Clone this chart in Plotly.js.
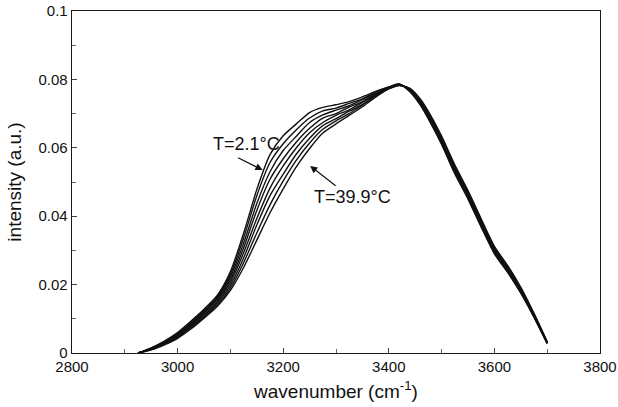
<!DOCTYPE html>
<html>
<head>
<meta charset="utf-8">
<script src="https://cdn.plot.ly/plotly-3.0.1.min.js"></script>
<style>
  html, body { margin: 0; padding: 0; background: #ffffff; }
  #chart { width: 618px; height: 407px; }
</style>
</head>
<body>
<div id="chart"></div>
<script>
// wavenumber grid (cm^-1)
const wavenumber = [2925, 2950, 2975, 3000, 3025, 3050, 3075, 3100, 3125, 3150, 3175, 3200, 3225, 3250, 3275, 3300, 3325, 3350, 3375, 3400, 3420, 3440, 3460, 3480, 3500, 3525, 3550, 3575, 3600, 3625, 3650, 3675, 3700];

// spectra, coldest (T=2.1°C) to warmest (T=39.9°C)
const temperatures = [2.1, 7.5, 12.9, 18.3, 23.7, 29.1, 34.5, 39.9];
const spec_T2_1  = [0, 0.0015, 0.0035, 0.0060, 0.0093, 0.0128, 0.0168, 0.0238, 0.0350, 0.0478, 0.0580, 0.0635, 0.0670, 0.0703, 0.0718, 0.0726, 0.0735, 0.0749, 0.0765, 0.0778, 0.0787, 0.0764, 0.0724, 0.0670, 0.0610, 0.0524, 0.0450, 0.0368, 0.0290, 0.0236, 0.0175, 0.0104, 0.0027];
const spec_T7_5  = [0, 0.0014, 0.0033, 0.0058, 0.0090, 0.0124, 0.0164, 0.0230, 0.0336, 0.0460, 0.0557, 0.0612, 0.0653, 0.0687, 0.0708, 0.0716, 0.0730, 0.0743, 0.0763, 0.0777, 0.0785, 0.0765, 0.0727, 0.0673, 0.0613, 0.0528, 0.0454, 0.0371, 0.0293, 0.0239, 0.0177, 0.0106, 0.0028];
const spec_T12_9 = [0, 0.0013, 0.0032, 0.0055, 0.0086, 0.0121, 0.0160, 0.0222, 0.0321, 0.0437, 0.0530, 0.0592, 0.0634, 0.0674, 0.0696, 0.0710, 0.0723, 0.0741, 0.0759, 0.0776, 0.0786, 0.0767, 0.0729, 0.0677, 0.0617, 0.0531, 0.0457, 0.0375, 0.0296, 0.0242, 0.0180, 0.0107, 0.0029];
const spec_T18_3 = [0, 0.0012, 0.0030, 0.0053, 0.0083, 0.0117, 0.0156, 0.0214, 0.0307, 0.0417, 0.0508, 0.0568, 0.0617, 0.0657, 0.0687, 0.0700, 0.0719, 0.0735, 0.0758, 0.0775, 0.0784, 0.0768, 0.0732, 0.0680, 0.0620, 0.0535, 0.0461, 0.0378, 0.0299, 0.0245, 0.0182, 0.0109, 0.0030];
const spec_T23_7 = [0, 0.0012, 0.0029, 0.0050, 0.0080, 0.0113, 0.0151, 0.0206, 0.0293, 0.0393, 0.0482, 0.0547, 0.0600, 0.0644, 0.0674, 0.0695, 0.0711, 0.0733, 0.0754, 0.0775, 0.0784, 0.0770, 0.0734, 0.0683, 0.0624, 0.0539, 0.0464, 0.0382, 0.0303, 0.0247, 0.0185, 0.0111, 0.0030];
const spec_T29_1 = [0, 0.0011, 0.0027, 0.0048, 0.0077, 0.0109, 0.0146, 0.0198, 0.0278, 0.0374, 0.0460, 0.0523, 0.0582, 0.0628, 0.0665, 0.0685, 0.0707, 0.0727, 0.0753, 0.0774, 0.0783, 0.0771, 0.0737, 0.0687, 0.0627, 0.0543, 0.0468, 0.0385, 0.0306, 0.0250, 0.0187, 0.0113, 0.0031];
const spec_T34_5 = [0, 0.0010, 0.0026, 0.0045, 0.0073, 0.0106, 0.0141, 0.0190, 0.0264, 0.0351, 0.0433, 0.0503, 0.0564, 0.0614, 0.0654, 0.0679, 0.0700, 0.0725, 0.0750, 0.0773, 0.0783, 0.0773, 0.0739, 0.0690, 0.0631, 0.0546, 0.0471, 0.0389, 0.0309, 0.0253, 0.0190, 0.0114, 0.0032];
const spec_T39_9 = [0, 0.0009, 0.0024, 0.0043, 0.0070, 0.0102, 0.0136, 0.0183, 0.0250, 0.0330, 0.0410, 0.0480, 0.0545, 0.0598, 0.0643, 0.0670, 0.0695, 0.0720, 0.0748, 0.0772, 0.0782, 0.0774, 0.0742, 0.0693, 0.0634, 0.0550, 0.0475, 0.0392, 0.0312, 0.0256, 0.0192, 0.0116, 0.0033];

const spectra = [spec_T2_1, spec_T7_5, spec_T12_9, spec_T18_3, spec_T23_7, spec_T29_1, spec_T34_5, spec_T39_9];

// axis ticks
const xTickVals = [2800, 3000, 3200, 3400, 3600, 3800];
const xTickText = ['2800', '3000', '3200', '3400', '3600', '3800'];
const yTickVals = [0, 0.02, 0.04, 0.06, 0.08, 0.1];
const yTickText = ['0', '0.02', '0.04', '0.06', '0.08', '0.1'];

// labels
const coldLabel = 'T=2.1°C';
const hotLabel = 'T=39.9°C';

const FONT = 'Liberation Sans, Arial, Helvetica, sans-serif';

const traces = spectra.map((s, i) => ({
  x: wavenumber,
  y: s,
  type: 'scatter',
  mode: 'lines',
  name: 'T=' + temperatures[i] + '°C',
  line: { color: '#111111', width: 1.4, shape: 'spline', smoothing: 0.7 },
  hoverinfo: 'skip',
  showlegend: false
}));

const axisCommon = {
  showgrid: false,
  zeroline: false,
  showline: true,
  linecolor: '#1a1a1a',
  linewidth: 1.3,
  mirror: true,
  ticks: 'inside',
  ticklen: 5,
  tickwidth: 1,
  tickcolor: '#444444',
  tickfont: { family: FONT, size: 15, color: '#111111' },
  tickmode: 'array'
};

const layout = {
  width: 618,
  height: 407,
  margin: { l: 72, r: 18, t: 11, b: 54 },
  paper_bgcolor: '#ffffff',
  plot_bgcolor: '#ffffff',
  font: { family: FONT, color: '#111111' },
  xaxis: Object.assign({}, axisCommon, {
    range: [2800, 3800],
    tickvals: xTickVals,
    ticktext: xTickText,
    minor: { dtick: 100, ticks: 'inside', ticklen: 4, tickcolor: '#666666' },
    title: { text: 'wavenumber (cm<sup>-1</sup>)', font: { family: FONT, size: 19, color: '#111111' }, standoff: 10 }
  }),
  yaxis: Object.assign({}, axisCommon, {
    range: [0, 0.1],
    tickvals: yTickVals,
    ticktext: yTickText,
    minor: { dtick: 0.01, ticks: 'inside', ticklen: 4, tickcolor: '#666666' },
    title: { text: 'intensity (a.u.)', font: { family: FONT, size: 19, color: '#111111' }, standoff: 11 }
  }),
  annotations: [
    { x: 3161, y: 0.0535, xref: 'x', yref: 'y', ax: -26, ay: -13, showarrow: true,
      arrowhead: 2, arrowsize: 1.2, arrowwidth: 1.2, arrowcolor: '#111111', text: '' },
    { x: 3130, y: 0.0611, xref: 'x', yref: 'y', text: coldLabel, showarrow: false,
      font: { family: FONT, size: 18, color: '#111111' } },
    { x: 3251, y: 0.0547, xref: 'x', yref: 'y', ax: 27, ay: 21, showarrow: true,
      arrowhead: 2, arrowsize: 1.2, arrowwidth: 1.2, arrowcolor: '#111111', text: '' },
    { x: 3332, y: 0.0456, xref: 'x', yref: 'y', text: hotLabel, showarrow: false,
      font: { family: FONT, size: 18, color: '#111111' } }
  ]
};

Plotly.newPlot('chart', traces, layout, { staticPlot: true, displayModeBar: false });
</script>
</body>
</html>
